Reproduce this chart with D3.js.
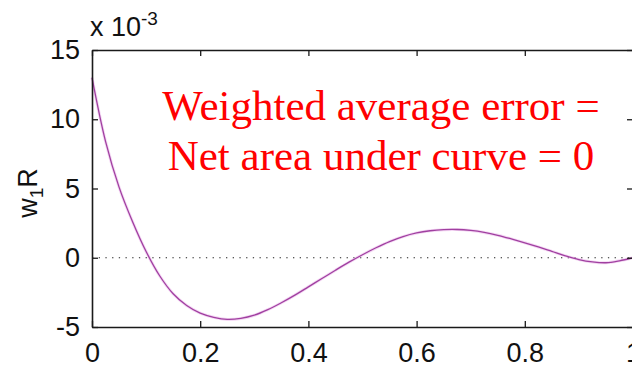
<!DOCTYPE html>
<html>
<head>
<meta charset="utf-8">
<script src="https://cdn.jsdelivr.net/npm/d3@7"></script>
<style>
  html, body { margin: 0; padding: 0; background: #fff; }
  svg { display: block; }
  .tick text { font-family: Arial, "Liberation Sans", sans-serif; }
</style>
</head>
<body>
<svg id="chart" width="632" height="369"></svg>
<script>
// Weighted residual w1*R along the domain (values in units of 1e-3)
const xValues = [0, 0.025, 0.05, 0.075, 0.1, 0.125, 0.15, 0.175, 0.2, 0.225, 0.25, 0.275,
  0.3, 0.325, 0.35, 0.375, 0.4, 0.425, 0.45, 0.475, 0.5, 0.525, 0.55, 0.575, 0.6, 0.625,
  0.65, 0.675, 0.7, 0.725, 0.75, 0.775, 0.8, 0.825, 0.85, 0.875, 0.9, 0.925, 0.95, 0.975, 1.0];
const w1R = [13.0, 8.4, 5.1, 2.6, 0.45, -1.3, -2.6, -3.45, -4.0, -4.3, -4.45, -4.38,
  -4.15, -3.75, -3.25, -2.7, -2.1, -1.5, -0.9, -0.32, 0.22, 0.72, 1.17, 1.53, 1.79, 1.95,
  2.03, 2.04, 1.97, 1.83, 1.62, 1.36, 1.08, 0.78, 0.46, 0.14, -0.13, -0.3, -0.36, -0.22, 0];

const xTicks = [0, 0.2, 0.4, 0.6, 0.8, 1];
const xTickLabels = ["0", "0.2", "0.4", "0.6", "0.8", "1"];
const yTicks = [-5, 0, 5, 10, 15];
const yTickLabels = ["-5", "0", "5", "10", "15"];
const annotationLines = ["Weighted average error =", "Net area under curve = 0"];

const svg = d3.select("#chart");
const plotLeft = 92, plotRight = 633, plotTop = 50, plotBottom = 327;

const x = d3.scaleLinear().domain([0, 1]).range([plotLeft, plotRight]);
const y = d3.scaleLinear().domain([-5, 15]).range([plotBottom, plotTop]);

const axisColor = "#1a1a1a";
const fontSize = 27;

// zero reference line
svg.append("line")
  .attr("x1", x(0)).attr("x2", x(1))
  .attr("y1", y(0)).attr("y2", y(0))
  .attr("stroke", "#222").attr("stroke-width", 1.2)
  .attr("stroke-dasharray", "1.3,5.4");

// curve
const line = d3.line()
  .x((d, i) => x(xValues[i]))
  .y(d => y(d))
  .curve(d3.curveCatmullRom.alpha(0.5));

svg.append("path")
  .datum(w1R)
  .attr("d", line)
  .attr("fill", "none")
  .attr("stroke", "#eab0ea")
  .attr("stroke-width", 3)
  .attr("opacity", 0.5);

svg.append("path")
  .datum(w1R)
  .attr("d", line)
  .attr("fill", "none")
  .attr("stroke", "#a040a0")
  .attr("stroke-width", 1.3);

function styleAxis(g) {
  g.select(".domain").attr("stroke", axisColor).attr("stroke-width", 1.6);
  g.selectAll(".tick line").attr("stroke", axisColor).attr("stroke-width", 1.3);
  g.selectAll(".tick text").attr("fill", "#111").attr("font-size", fontSize);
}

// bottom axis
svg.append("g")
  .attr("transform", `translate(0,${plotBottom})`)
  .call(d3.axisBottom(x).tickValues(xTicks)
    .tickFormat((d, i) => xTickLabels[i])
    .tickSizeInner(-6).tickSizeOuter(0).tickPadding(16))
  .call(styleAxis);

// top axis (ticks only)
svg.append("g")
  .attr("transform", `translate(0,${plotTop})`)
  .call(d3.axisTop(x).tickValues(xTicks).tickFormat("")
    .tickSizeInner(-6).tickSizeOuter(0))
  .call(styleAxis);

// left axis
svg.append("g")
  .attr("transform", `translate(${plotLeft},0)`)
  .call(d3.axisLeft(y).tickValues(yTicks)
    .tickFormat((d, i) => yTickLabels[i])
    .tickSizeInner(-6).tickSizeOuter(0).tickPadding(12))
  .call(styleAxis);

// right axis (ticks only)
svg.append("g")
  .attr("transform", `translate(${plotRight},0)`)
  .call(d3.axisRight(y).tickValues(yTicks).tickFormat("")
    .tickSizeInner(-6).tickSizeOuter(0))
  .call(styleAxis);

// exponent label
const expo = svg.append("text")
  .attr("x", 90).attr("y", 36)
  .attr("font-family", "Arial, 'Liberation Sans', sans-serif")
  .attr("font-size", 27).attr("fill", "#111");
expo.append("tspan").text("x 10");
expo.append("tspan").attr("font-size", 19).attr("dy", -11).text("-3");

// y axis label
const yl = svg.append("text")
  .attr("transform", "translate(37,193) rotate(-90)")
  .attr("text-anchor", "middle")
  .attr("font-family", "Arial, 'Liberation Sans', sans-serif")
  .attr("font-size", 27).attr("fill", "#111");
yl.append("tspan").text("w");
yl.append("tspan").attr("font-size", 19).attr("dy", 6).text("1");
yl.append("tspan").attr("dy", -6).text("R");

// annotation
svg.append("g").selectAll("text")
  .data(annotationLines)
  .join("text")
  .attr("x", 381)
  .attr("y", (d, i) => 120 + i * 50)
  .attr("text-anchor", "middle")
  .attr("font-family", "'Times New Roman', 'Liberation Serif', serif")
  .attr("font-size", 43)
  .attr("fill", "#ff0000")
  .text(d => d);
</script>
</body>
</html>
